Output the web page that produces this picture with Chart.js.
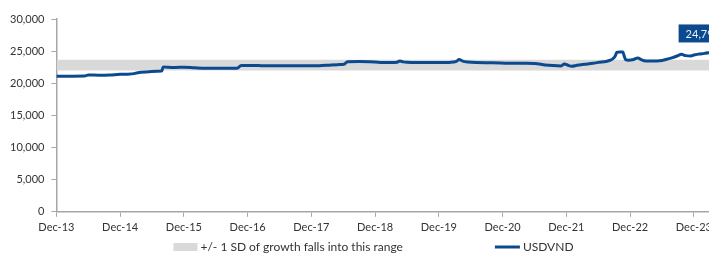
<!DOCTYPE html>
<html>
<head>
<meta charset="utf-8">
<script src="https://cdn.jsdelivr.net/npm/chart.js@4"></script>
<style>
  html, body { margin: 0; padding: 0; background: #fff; overflow: hidden; }
  #wrap { width: 747px; height: 254px; }
</style>
</head>
<body>
<div id="wrap"><canvas id="chartUsdVnd" width="747" height="254"></canvas></div>
<script>
// USDVND (dates are where the line moves on the plot)
let dates = [
    '2013-12-01', '2014-01-15', '2014-03-01', '2014-05-10', '2014-06-01', '2014-08-01', '2014-10-01', '2014-12-01',
    '2015-01-15', '2015-02-20', '2015-03-10', '2015-05-15', '2015-07-01', '2015-07-25', '2015-08-05', '2015-09-01',
    '2015-10-15', '2015-12-01', '2016-02-01', '2016-04-01', '2016-06-01', '2016-08-01', '2016-10-01', '2016-10-25',
    '2016-12-01', '2017-02-01', '2017-05-01', '2017-08-01', '2017-11-01', '2018-01-15', '2018-03-01', '2018-05-01',
    '2018-06-05', '2018-06-25', '2018-09-01', '2018-11-01', '2019-01-01', '2019-03-01', '2019-04-05', '2019-04-20',
    '2019-05-10', '2019-06-01', '2019-08-01', '2019-10-01', '2019-12-01', '2020-02-01', '2020-03-10', '2020-03-25',
    '2020-04-15', '2020-05-15', '2020-07-01', '2020-10-01', '2021-01-01', '2021-04-01', '2021-06-01', '2021-08-01',
    '2021-09-15', '2021-11-01', '2021-11-20', '2021-12-10', '2022-01-01', '2022-02-01', '2022-03-15', '2022-05-01',
    '2022-06-01', '2022-07-15', '2022-08-10', '2022-08-25', '2022-09-08', '2022-09-15', '2022-10-01', '2022-10-20',
    '2022-10-28', '2022-11-05', '2022-11-20', '2022-12-15', '2023-01-15', '2023-02-01', '2023-03-01', '2023-04-01',
    '2023-05-01', '2023-06-01', '2023-07-01', '2023-08-01', '2023-09-01', '2023-09-20', '2023-10-15', '2023-11-15',
    '2023-12-01', '2024-01-01', '2024-02-01', '2024-03-01'
];
let usdvnd = [
    21100, 21110, 21100, 21120, 21300, 21250, 21280, 21400,
    21420, 21500, 21650, 21800, 21880, 21900, 22550, 22480,
    22450, 22500, 22400, 22320, 22320, 22330, 22350, 22750,
    22770, 22750, 22730, 22730, 22720, 22740, 22800, 22900,
    22950, 23350, 23380, 23350, 23250, 23230, 23280, 23450,
    23330, 23280, 23250, 23250, 23230, 23250, 23400, 23700,
    23450, 23300, 23220, 23200, 23120, 23100, 23080, 22850,
    22750, 22700, 23000, 22800, 22650, 22800, 22950, 23100,
    23250, 23400, 23600, 23850, 24300, 24820, 24880, 24850,
    24200, 23700, 23600, 23650, 23950, 23700, 23450, 23450,
    23470, 23550, 23750, 24000, 24300, 24500, 24300, 24250,
    24400, 24550, 24650, 24795
];

// +/- 1 SD band
let sdLow = 22000;
let sdHigh = 23650;

let xTickLabels = ['Dec-13', 'Dec-14', 'Dec-15', 'Dec-16', 'Dec-17', 'Dec-18', 'Dec-19', 'Dec-20', 'Dec-21', 'Dec-22', 'Dec-23'];
let xMax = 130;

let toMonth = (d) => {
    let p = d.split('-').map(Number);
    return (p[0] - 2013) * 12 + (p[1] - 12) + (p[2] - 1) / 30;
};

let linePoints = dates.map((d, i) => ({ x: toMonth(d), y: usdvnd[i] }));

// value box over the last point
let lastLabel = {
    id: 'lastLabel',
    afterDatasetsDraw(chart) {
        let ctx = chart.ctx;
        let meta = chart.getDatasetMeta(2);
        let pt = meta.data[meta.data.length - 1];
        let txt = usdvnd[usdvnd.length - 1].toLocaleString('en-US');
        ctx.save();
        ctx.font = '11px Lato';
        let w = ctx.measureText(txt).width + 14;
        let h = 18;
        let bx = pt.x - 7 - w / 2;
        let by = pt.y - 10 - h;
        ctx.fillStyle = '#0b4a8f';
        ctx.fillRect(bx, by, w, h);
        ctx.fillStyle = '#eef2f8';
        ctx.textAlign = 'left';
        ctx.textBaseline = 'middle';
        ctx.fillText(txt, bx + 7, by + h / 2 + 1);
        ctx.restore();
    }
};

// legend row at the bottom, the built-in one adds too much height with wide gaps
let bottomLegend = {
    id: 'bottomLegend',
    afterDraw(chart) {
        let ctx = chart.ctx;
        let band = chart.data.datasets[1];
        let line = chart.data.datasets[2];
        ctx.save();
        ctx.font = '12px Lato';
        ctx.textBaseline = 'middle';
        let w1 = 24 + 3 + ctx.measureText(band.label).width;
        let w2 = 25 + 3 + ctx.measureText(line.label).width;
        let gap = 92;
        let x = chart.width / 2 - (w1 + gap + w2) / 2;
        let y = 247;
        ctx.fillStyle = band.backgroundColor;
        ctx.fillRect(x, y - 4, 24, 8);
        ctx.fillStyle = '#333333';
        ctx.fillText(band.label, x + 27, y);
        x += w1 + gap;
        ctx.strokeStyle = line.borderColor;
        ctx.lineWidth = 3;
        ctx.beginPath();
        ctx.moveTo(x, y);
        ctx.lineTo(x + 25, y);
        ctx.stroke();
        ctx.fillText(line.label, x + 28, y);
        ctx.restore();
    }
};

Chart.defaults.font.family = 'Lato';
Chart.defaults.font.size = 11;
Chart.defaults.color = '#333333';

let config = {
    type: 'line',
    data: {
        datasets: [{
            label: 'sdLow',
            data: [{ x: 0, y: sdLow }, { x: xMax, y: sdLow }],
            borderWidth: 0,
            pointRadius: 0,
            fill: false,
            order: 1
        }, {
            label: '+/- 1 SD of growth falls into this range',
            data: [{ x: 0, y: sdHigh }, { x: xMax, y: sdHigh }],
            borderWidth: 0,
            borderColor: 'rgba(0,0,0,0)',
            backgroundColor: '#d9d9d9',
            pointRadius: 0,
            fill: '-1',
            order: 1
        }, {
            label: 'USDVND',
            data: linePoints,
            borderColor: '#0b4a8f',
            backgroundColor: '#0b4a8f',
            borderWidth: 3,
            pointRadius: 0,
            cubicInterpolationMode: 'monotone',
            fill: false,
            order: 0
        }]
    },
    options: {
        responsive: false,
        animation: false,
        devicePixelRatio: 1,
        layout: {
            padding: { top: 19, left: 3, right: 0, bottom: 16 }
        },
        plugins: {
            tooltip: { enabled: false },
            legend: { display: false }
        },
        scales: {
            x: {
                type: 'linear',
                min: 0,
                max: xMax,
                grid: { display: true, drawOnChartArea: false, drawTicks: true, tickLength: 5, color: '#a6a6a6', lineWidth: 1 },
                border: { color: '#a6a6a6', width: 1.5 },
                ticks: {
                    stepSize: 12,
                    includeBounds: false,
                    autoSkip: false,
                    maxRotation: 0,
                    padding: 4,
                    callback: (v) => xTickLabels[v / 12]
                }
            },
            y: {
                min: 0,
                max: 30000,
                grid: { display: true, drawOnChartArea: false, drawTicks: true, tickLength: 5, color: '#a6a6a6', lineWidth: 1 },
                border: { color: '#a6a6a6', width: 1.5 },
                ticks: {
                    stepSize: 5000,
                    padding: 7,
                    callback: (v) => v.toLocaleString('en-US')
                }
            }
        }
    },
    plugins: [lastLabel, bottomLegend]
};

let chartUsdVnd = new Chart(document.querySelector('#chartUsdVnd').getContext('2d'), config);
</script>
</body>
</html>
